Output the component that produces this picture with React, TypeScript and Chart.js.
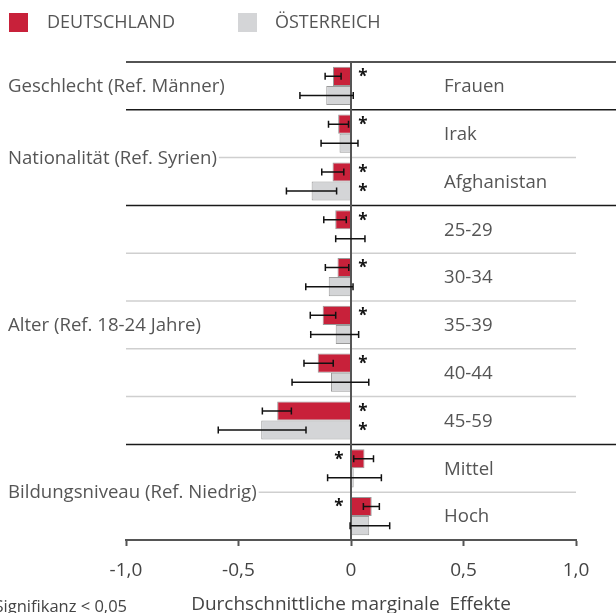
import React, { useEffect, useRef } from "react";
import { Chart, registerables } from "chart.js";

Chart.register(...registerables);

const categories = ["Frauen", "Irak", "Afghanistan", "25-29", "30-34", "35-39", "40-44", "45-59", "Mittel", "Hoch"];
const seriesNames = ["DEUTSCHLAND", "ÖSTERREICH"];
const deValues = [-0.08, -0.057, -0.082, -0.07, -0.06, -0.126, -0.148, -0.328, 0.06, 0.092];
const deLow = [-0.115, -0.1, -0.13, -0.121, -0.114, -0.181, -0.209, -0.394, 0.012, 0.055];
const deHigh = [-0.044, -0.011, -0.032, -0.021, -0.01, -0.068, -0.079, -0.265, 0.1, 0.126];
const atValues = [-0.11, -0.051, -0.175, -0.003, -0.099, -0.068, -0.089, -0.399, 0.012, 0.081];
const atLow = [-0.227, -0.133, -0.287, -0.068, -0.201, -0.179, -0.262, -0.59, -0.104, -0.004];
const atHigh = [0.01, 0.031, -0.064, 0.062, 0.009, 0.034, 0.079, -0.2, 0.135, 0.172];
const deSignificant = [true, true, true, true, true, true, true, true, true, true];
const atSignificant = [false, false, true, false, false, false, false, true, false, false];
const groupLabels = ["Geschlecht (Ref. Männer)", "Nationalität (Ref. Syrien)", "Alter (Ref. 18-24 Jahre)", "Bildungsniveau (Ref. Niedrig)"];
const groupStart = [0, 1, 3, 8];
const groupEnd = [0, 2, 7, 9];
const xTicks = [-1, -0.5, 0, 0.5, 1];
const axisTitle = "Durchschnittliche marginale  Effekte";
const footnote = "* Signifikanz < 0,05";

const RED = "#C8213A";
const GRAY = "#D4D5D7";
const TEXT = "#555555";
const FONT = "'Open Sans', 'Noto Sans', sans-serif";

const lows = [deLow, atLow];
const highs = [deHigh, atHigh];
const sigs = [deSignificant, atSignificant];

const decoPlugin = {
  id: "deco",
  beforeDatasetsDraw(chart: any) {
    const { ctx, chartArea: ca, scales } = chart;
    const y = scales.y;
    const n = categories.length;
    const rowH = (ca.bottom - ca.top) / n;
    const rowTop = (i: number) => y.getPixelForValue(i) - rowH / 2;
    ctx.save();
    ctx.font = `18.6px ${FONT}`;
    ctx.fillStyle = TEXT;
    ctx.textBaseline = "middle";
    ctx.textAlign = "left";
    const labelPos: { y: number; end: number }[] = [];
    groupLabels.forEach((g, k) => {
      const yy = (rowTop(groupStart[k]) + rowTop(groupEnd[k]) + rowH) / 2;
      ctx.fillText(g, 8, yy + 1);
      labelPos.push({ y: yy, end: 8 + ctx.measureText(g).width });
    });
    for (let i = 0; i < n; i++) {
      const yy = rowTop(i);
      const isGroupTop = groupStart.includes(i);
      if (isGroupTop) {
        ctx.strokeStyle = "#1a1a1a";
        ctx.lineWidth = 1.5;
        ctx.beginPath();
        ctx.moveTo(ca.left, yy);
        ctx.lineTo(chart.width, yy);
        ctx.stroke();
      } else {
        let start = ca.left;
        labelPos.forEach((p) => {
          if (Math.abs(p.y - yy) < 4) start = p.end + 2;
        });
        ctx.strokeStyle = "#cfcfcf";
        ctx.lineWidth = 1.5;
        ctx.beginPath();
        ctx.moveTo(start, yy);
        ctx.lineTo(ca.right, yy);
        ctx.stroke();
      }
    }
    ctx.fillStyle = TEXT;
    ctx.font = `18.6px ${FONT}`;
    categories.forEach((c, i) => {
      ctx.fillText(c, 444, y.getPixelForValue(i) + 1);
    });
    ctx.restore();
  },
  afterDatasetsDraw(chart: any) {
    const { ctx, chartArea: ca, scales } = chart;
    const x = scales.x;
    const x0 = x.getPixelForValue(0);
    ctx.save();
    ctx.strokeStyle = "#555";
    ctx.lineWidth = 2;
    ctx.beginPath();
    ctx.moveTo(x0, ca.top);
    ctx.lineTo(x0, ca.bottom);
    ctx.stroke();
    chart.data.datasets.forEach((ds: any, d: number) => {
      const meta = chart.getDatasetMeta(d);
      meta.data.forEach((bar: any, i: number) => {
        const yc = bar.y;
        const xl = x.getPixelForValue(lows[d][i]);
        const xh = x.getPixelForValue(highs[d][i]);
        ctx.strokeStyle = "#111";
        ctx.lineWidth = 1.5;
        ctx.beginPath();
        ctx.moveTo(xl, yc);
        ctx.lineTo(xh, yc);
        ctx.moveTo(xl, yc - 3.5);
        ctx.lineTo(xl, yc + 3.5);
        ctx.moveTo(xh, yc - 3.5);
        ctx.lineTo(xh, yc + 3.5);
        ctx.stroke();
        if (sigs[d][i]) {
          const v = ds.data[i];
          const ax = v < 0 ? x0 + 12 : x0 - 12;
          ctx.fillStyle = "#111";
          ctx.font = `bold 17px ${FONT}`;
          ctx.textAlign = "center";
          ctx.textBaseline = "middle";
          ctx.fillText("*", ax, yc + 1);
        }
      });
    });
    ctx.restore();
  },
  afterDraw(chart: any) {
    const { ctx } = chart;
    ctx.save();
    const colors = [RED, GRAY];
    const boxX = [9, 238];
    const textX = [47, 275];
    ctx.font = `18px ${FONT}`;
    ctx.textBaseline = "middle";
    ctx.textAlign = "left";
    chart.data.datasets.forEach((ds: any, d: number) => {
      ctx.fillStyle = colors[d];
      ctx.fillRect(boxX[d], 13, 19, 19);
      ctx.fillStyle = TEXT;
      ctx.fillText(ds.label, textX[d], 23);
    });
    ctx.font = `16.5px ${FONT}`;
    ctx.textAlign = "right";
    ctx.fillStyle = "#444";
    ctx.fillText(footnote, 127, 607);
    ctx.restore();
  },
};

export default function App() {
  const ref = useRef<HTMLCanvasElement>(null);
  useEffect(() => {
    if (!ref.current) return;
    const chart = new Chart(ref.current, {
      type: "bar",
      data: {
        labels: categories,
        datasets: [
          {
            label: seriesNames[0],
            data: deValues,
            backgroundColor: RED,
            borderColor: "#9a9a9a",
            borderWidth: 1,
            categoryPercentage: 0.8,
            barPercentage: 1,
          },
          {
            label: seriesNames[1],
            data: atValues,
            backgroundColor: GRAY,
            borderColor: "#9a9a9a",
            borderWidth: 1,
            categoryPercentage: 0.8,
            barPercentage: 1,
          },
        ],
      },
      options: {
        indexAxis: "y",
        responsive: false,
        animation: false,
        events: [],
        layout: { padding: { left: 126, right: 40, top: 62, bottom: 0 } },
        plugins: { legend: { display: false }, tooltip: { enabled: false } },
        scales: {
          y: { type: "category", display: false },
          x: {
            type: "linear",
            min: -1,
            max: 1,
            afterBuildTicks: (scale: any) => {
              scale.ticks = xTicks.map((v) => ({ value: v }));
            },
            afterFit: (scale: any) => {
              scale.height = 73;
            },
            grid: {
              drawOnChartArea: false,
              drawTicks: true,
              tickLength: 6,
              tickColor: "#555",
              tickWidth: 2,
              color: "#555",
            },
            border: { display: true, color: "#555", width: 2 },
            ticks: {
              color: "#444",
              padding: 13,
              font: { family: FONT, size: 19 },
              callback: (v: any) => (v === 0 ? "0" : Number(v).toFixed(1).replace(".", ",")),
            },
            title: {
              display: true,
              text: axisTitle,
              color: "#444",
              font: { family: FONT, size: 19, lineHeight: 1 },
              padding: { top: 0, bottom: -1 },
            },
          },
        },
      },
      plugins: [decoPlugin],
    });
    return () => chart.destroy();
  }, []);
  return (
    <div style={{ position: "fixed", left: 0, top: 0, width: 616, height: 613, background: "#fff" }}>
      <canvas ref={ref} width={616} height={613} />
    </div>
  );
}
